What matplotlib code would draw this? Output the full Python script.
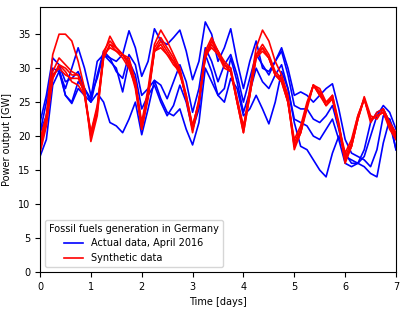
import numpy as np
import matplotlib
matplotlib.use("Agg")
import matplotlib.pyplot as plt

# time axis, 3-hour steps over one week
days = np.arange(57) / 8.0

# actual fossil generation, four weeks of April 2016 [GW]
actual_week1 = [20.5, 25, 30, 29.5, 27, 30, 33, 30,
                26, 28.5, 32, 31.5, 31, 32, 35.5, 33,
                28.8, 31, 35.8, 34, 33.5, 34.5, 35.6, 32.5,
                28.3, 31, 36.8, 35, 31, 33, 35.8, 31,
                27, 31, 34, 30, 29.5, 31, 33, 30,
                26, 26.5, 26, 25, 26, 27, 27.7, 24,
                19.5, 17.5, 17, 16.5, 15.5, 18, 23, 22.5,
                20]
actual_week2 = [22, 26, 31.5, 30.5, 28, 28.5, 29.5, 27,
                25, 29, 32.5, 31.5, 29.5, 28.5, 32, 30.5,
                26, 27, 28.2, 27.5, 25.5, 28, 30.5, 28,
                23.5, 27, 33, 31, 28, 30.5, 32, 29,
                25, 28.5, 32, 30.5, 29, 31, 32.5, 29,
                24.5, 24, 24, 22.5, 22, 23, 24.5, 21,
                17, 16.5, 16, 17, 20, 23, 24.5, 23.5,
                21]
actual_week3 = [20.5, 23, 29, 30, 26, 25, 28, 27,
                25.5, 31, 32, 31, 30, 26.5, 31, 29,
                24, 26, 27.5, 25, 23, 24.5, 27.5, 25,
                21, 24, 32, 29.5, 26, 27, 31.5, 28,
                23.5, 26.5, 30, 28, 27, 29, 30.5, 27,
                22.5, 22, 21.5, 20, 19.5, 21, 22.5, 19.5,
                16, 15.5, 16, 18, 22, 23.5, 24, 22,
                18]
actual_week4 = [17, 19.5, 27.5, 29.5, 26, 24.8, 27, 26,
                25, 26.3, 25, 22, 21.5, 20.5, 22.5, 25,
                20.2, 24, 28.2, 25.5, 23.5, 23, 24, 21,
                18.7, 22, 30, 28, 26, 25, 28.5, 27,
                23, 24, 26, 24, 21.8, 25, 29.5, 27,
                22, 18.5, 18, 16.5, 15, 14, 17.5, 20,
                17.5, 16, 16, 15.5, 14.5, 14, 19, 22.5,
                18]

# synthetic weeks [GW]
synth_1 = [19, 23, 32, 35, 35, 34, 31, 27,
           19.2, 23, 32, 34.7, 33, 32, 31.5, 28,
           22, 27, 33.5, 35.6, 34, 32, 30, 26,
           21.5, 25, 32.5, 34.5, 32.5, 31, 30, 25.5,
           21, 27, 33, 35.6, 34, 31, 29, 26,
           18.5, 20.5, 24.5, 27.5, 27, 25, 26, 22,
           16.5, 18.5, 22.5, 25.8, 23, 22.5, 24, 22,
           20]
synth_2 = [18, 22, 29.5, 31.5, 30.5, 29.5, 29, 26.5,
           20, 24, 32.5, 34, 33, 32, 30.5, 27.5,
           21, 26, 33, 34.5, 33, 31.5, 29.5, 25.5,
           21, 25, 32, 34, 32.5, 30.5, 30, 25,
           20.5, 26, 32, 33.5, 32, 29.5, 28.5, 25.5,
           18, 20.5, 24, 27.5, 26.5, 24.5, 26, 21.5,
           16, 18.5, 22.5, 25.5, 22.5, 23, 23.5, 21.5,
           19.5]
synth_3 = [19.5, 23, 29, 30, 29, 28.5, 28.5, 26.5,
           20.5, 24.5, 31.5, 33.5, 32.5, 32, 31, 28,
           21.5, 26.5, 32.5, 33.5, 32, 31, 29, 26,
           21, 25.5, 31.5, 33.5, 32, 30.5, 29.5, 25,
           21, 26.5, 31.5, 33, 31.5, 29, 28.5, 25,
           19, 21, 24.5, 27.5, 26, 24.5, 25.5, 21.5,
           17, 19, 23, 25.5, 22, 23.5, 24, 22,
           20.5]
synth_4 = [18.5, 22.5, 28.5, 30.5, 29.5, 28, 27.5, 26,
           20.5, 24, 32, 33, 32.5, 31.5, 30, 27.5,
           21.5, 26, 32.5, 33, 32, 30.5, 29.5, 25.5,
           21.5, 25, 32, 33, 32, 30, 29.5, 25.5,
           21.5, 26, 31.5, 32.5, 31.5, 29, 28, 25,
           19.5, 21.5, 25, 27.5, 26, 25, 25.5, 21.5,
           17.5, 19.5, 23, 25.5, 22.5, 23, 23.5, 21.5,
           20]
synth_5 = [17.5, 21.5, 28.5, 30.5, 30, 29, 29, 26,
           20, 23.5, 31.5, 33.5, 33, 32, 30.5, 27,
           21, 25.5, 32.5, 34, 32.5, 31, 29.5, 25.5,
           20.5, 25, 31.5, 34, 32.5, 30.5, 29.5, 25,
           20.5, 26, 32, 33, 31.5, 29, 28, 25,
           18.5, 20.5, 24.5, 27.5, 26.5, 24.5, 25.5, 21.5,
           16.5, 18.5, 22.5, 25.5, 22.5, 23, 23.5, 21,
           19.5]

actual = [actual_week1, actual_week2, actual_week3, actual_week4]
synthetic = [synth_1, synth_2, synth_3, synth_4, synth_5]

plt.rcParams['font.size'] = 7

fig = plt.figure(figsize=(4.07, 3.10), dpi=100)
ax = fig.add_axes([0.0983, 0.1226, 0.8747, 0.8548])

for i, week in enumerate(actual):
    ax.plot(days, week, color='b', lw=1.2, solid_joinstyle='round',
            label='Actual data, April 2016' if i == 0 else None)
for i, week in enumerate(synthetic):
    ax.plot(days, week, color='r', lw=1.2, solid_joinstyle='round',
            label='Synthetic data' if i == 0 else None)

ax.set_xlim(0, 7)
ax.set_ylim(0, 39)
ax.set_yticks(range(0, 36, 5))
ax.set_xlabel('Time [days]')
ax.set_ylabel('Power output [GW]')
ax.legend(loc='lower left', title='Fossil fuels generation in Germany',
          title_fontsize=7, fontsize=7)

fig.savefig('out.png', dpi=100)
